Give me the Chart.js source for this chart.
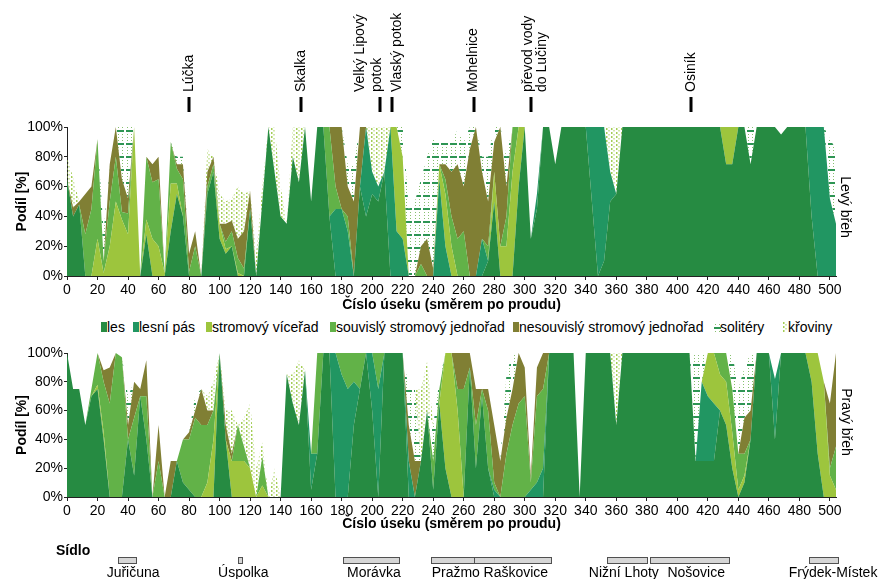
<!DOCTYPE html>
<html><head><meta charset="utf-8">
<script src="https://cdn.jsdelivr.net/npm/chart.js@4.4.1/dist/chart.umd.min.js"></script>
<style>
body{margin:0;background:#fff;width:882px;height:579px;position:relative;overflow:hidden;font-family:"Liberation Sans",Arial,sans-serif;}
.wrap{position:absolute;left:0;width:882px;}
#legend{position:absolute;left:0;top:318px;width:882px;height:20px;font-size:14px;color:#000;}
#legend .box{position:absolute;top:4px;width:6px;height:10px;}
#legend .txt{position:absolute;top:0;line-height:18px;white-space:nowrap;}
</style></head><body>
<div class="wrap" style="top:0;height:318px"><canvas id="c1"></canvas></div>
<div id="legend"></div>
<div class="wrap" style="top:338px;height:241px"><canvas id="c2"></canvas></div>
<script>
// ---------- DATA ----------
const sections = [0,4,8,12,16,20,24,28,32,36, 40,44,48,52,56,60,64,68,72,76, 80,84,88,92,96,100,104,108,112,116,
 120,124,128,132,136,140,144,148,152,156, 160,164,168,172,176,180,184,188,192,196, 200,204,208,212,216,220,224,228,232,236,
 240,244,248,252,256,260,264,268,272,276, 280,284,288,292,296,300,304,308,312,316, 320,324,328,332,336,340,344,348,352,356,
 360,364,368,372,376,380,384,388,392,396, 400,404,408,412,416,420,424,428,432,436, 440,444,448,452,456,460,464,468,472,476,
 480,484,488,492,496,500,504];

const seriesNames = ['les','lesní pás','stromový víceřad','souvislý stromový jednořad','nesouvislý stromový jednořad','solitéry','křoviny'];
const yTicks = [0,20,40,60,80,100];
const xTicks = [0,20,40,60,80,100,120,140,160,180,200,220,240,260,280,300,320,340,360,380,400,420,440,460,480,500];

// Levý břeh
const lesL = [65,40,48,0,0,0,0,0,0,0, 0,0,0,28,0,0,0,30,55,40, 0,0,0,55,70,25,15,20,0,0, 45,0,50,100,70,40,35,80,63,100,
 50,100,100,40,0,0,0,0,60,40, 55,50,70,0,0,0,0,0,0,0, 0,0,0,0,0,0,0,0,0,10, 50,0,0,0,60,100,25,45,100,100,
 75,100,100,100,100,100,50,0,10,50, 55,100,100,100,100,100,100,100,100,100, 100,100,100,100,100,100,100,100,75,75,
 100,100,75,100,100,100,100,95,100,100, 100,100,40,0,0,0,0];
const pasL = [0,0,0,0,0,0,0,0,0,0, 0,0,0,0,0,0,0,0,0,0, 0,0,0,0,0,0,0,0,0,0, 0,0,0,0,0,0,0,0,0,0,
 0,0,0,0,45,45,30,0,0,60, 15,10,0,100,30,25,0,0,0,0, 0,65,20,0,0,0,0,0,25,0, 0,0,0,0,0,0,0,10,0,0,
 0,0,0,0,0,0,50,100,90,20, 0,0,0,0,0,0,0,0,0,0, 0,0,0,0,0,0,0,0,0,0, 0,0,0,0,0,0,0,0,0,0, 0,0,60,100,100,52,35];
const vicL = [0,0,0,0,0,25,2,20,50,38, 28,100,0,10,25,20,2,32,7,0, 0,0,0,0,0,10,3,0,2,0, 0,0,0,0,0,0,0,0,0,0,
 0,0,0,0,0,0,0,0,0,0, 0,0,0,0,70,55,0,0,0,0, 0,10,35,20,0,0,0,0,0,0, 20,20,20,70,40,0,0,0,0,0,
 0,0,0,0,0,0,0,0,0,0, 0,0,0,0,0,0,0,0,0,0, 0,0,0,0,0,0,0,0,25,25, 0,0,0,0,0,0,0,0,0,0, 0,0,0,0,0,0,0];
const souL = [0,0,0,28,45,67,8,30,30,5, 14,0,0,42,38,45,0,28,10,25, 3,20,0,5,5,0,5,10,10,5, 0,0,0,0,0,0,0,0,0,0,
 0,0,0,60,15,0,10,0,0,0, 0,0,0,0,0,0,0,0,8,0, 0,0,10,20,25,30,0,0,0,10, 0,0,20,30,0,0,0,0,0,0,
 0,0,0,0,0,0,0,0,0,0, 0,0,0,0,0,0,0,0,0,0, 0,0,0,0,0,0,0,0,0,0, 0,0,0,0,0,0,0,0,0,0, 0,0,0,0,0,0,0];
const nesL = [0,6,2,27,15,0,0,25,20,22, 10,0,0,0,12,15,0,0,3,10, 12,10,0,10,5,0,12,7,13,25, 12,0,0,0,0,0,0,0,0,0,
 0,0,0,0,40,55,20,50,40,0, 0,0,0,0,0,0,0,0,12,25, 5,0,10,30,50,30,85,100,45,30, 20,80,20,0,0,0,0,0,0,0,
 0,0,0,0,0,0,0,0,0,0, 0,0,0,0,0,0,0,0,0,0, 0,0,0,0,0,0,0,0,0,0, 0,0,0,0,0,0,0,0,0,0, 0,0,0,0,0,0,0];
const solL = [0,0,0,0,0,0,20,0,0,35, 48,0,0,0,0,0,0,0,5,5, 0,0,0,0,0,0,0,0,0,0, 0,0,0,0,0,0,0,0,0,0,
 0,0,0,0,0,0,15,25,0,0, 0,0,0,0,0,20,45,50,45,55, 87,15,15,20,23,30,15,0,10,30, 10,0,20,0,0,0,0,0,0,0,
 0,0,0,0,0,0,0,0,0,0, 0,0,0,0,0,0,0,0,0,0, 0,0,0,0,0,0,0,0,0,0, 0,0,25,0,0,0,0,0,0,0, 0,0,0,0,0,40,50];
const kroL = [15,20,0,0,0,0,0,0,0,0, 0,0,0,0,0,0,0,0,0,0, 0,0,0,15,0,20,15,15,35,25, 0,15,10,0,30,20,0,20,37,0,
 0,0,0,0,0,0,0,0,0,0, 30,40,30,0,0,0,0,0,0,0, 0,0,0,0,0,0,0,0,0,0, 0,0,0,0,0,0,0,0,0,0,
 0,0,0,0,0,0,0,0,0,30, 45,0,0,0,0,0,0,0,0,0, 0,0,0,0,0,0,0,0,0,0, 0,0,0,0,0,0,0,0,0,0, 0,0,0,0,0,0,0];

// Pravý břeh
const lesR = [100,75,75,50,70,75,40,0,0,0, 40,15,70,40,0,0,0,0,25,10, 5,0,0,0,0,100,40,0,0,0, 0,0,0,0,0,0,85,65,50,88,
 5,30,100,100,0,0,0,50,75,100, 60,0,100,100,100,100,0,0,25,60, 5,65,20,0,0,0,90,20,70,20, 0,0,0,0,0,0,0,0,0,100,
 100,100,100,100,0,100,100,100,100,100, 50,100,100,100,100,100,100,100,100,100, 100,100,100,25,25,25,25,60,50,20,
 0,10,40,100,100,100,40,100,100,100, 100,100,80,30,0,0,0];
const pasR = [0,0,0,0,0,0,0,0,0,0, 0,0,0,0,0,0,0,0,0,0, 0,0,0,0,0,0,0,0,0,0, 0,0,0,0,0,0,0,0,0,0,
 25,0,0,0,100,85,75,30,0,0, 40,75,0,0,0,0,25,0,0,0, 0,0,0,0,0,0,0,0,0,0, 5,0,0,0,0,0,5,10,20,0,
 0,0,0,0,0,0,0,0,0,0, 0,0,0,0,0,0,0,0,0,0, 0,0,0,0,55,45,40,0,0,0, 0,0,0,0,0,0,42,0,0,0, 0,0,0,0,0,0,0];
const vicR = [0,0,0,0,0,3,5,0,0,0, 0,0,0,0,0,0,0,0,0,0, 0,0,0,10,40,0,0,25,25,25, 20,0,8,0,0,0,0,0,0,0,
 0,0,0,0,0,0,0,0,0,0, 0,0,0,0,0,0,0,0,0,0, 0,0,80,100,60,0,0,0,0,0, 0,0,0,0,0,0,0,0,0,0,
 0,0,0,0,0,0,0,0,0,0, 0,0,0,0,0,0,0,0,0,0, 0,0,0,0,0,30,35,25,30,25, 5,5,0,0,0,0,0,0,0,0, 0,0,20,70,80,15,5];
const souR = [0,0,0,0,5,22,35,65,100,97, 0,40,0,30,0,25,0,0,0,30, 35,55,50,40,20,0,0,0,25,10, 0,0,20,0,0,0,0,0,0,0,
 0,70,0,0,0,15,25,20,25,0, 0,25,0,0,0,0,0,0,0,0, 20,10,0,0,15,75,0,30,5,40, 5,0,30,50,65,70,5,60,55,0,
 0,0,0,0,0,0,0,0,0,0, 0,0,0,0,0,0,0,0,0,0, 0,0,0,0,0,0,0,15,20,30, 25,15,0,0,0,0,0,0,0,0, 0,0,0,0,0,5,30];
const nesR = [0,0,0,0,0,0,8,25,0,0, 10,25,5,25,0,25,0,25,0,0, 5,5,25,10,0,0,10,5,0,0, 0,0,0,0,0,0,0,0,0,0,
 0,0,0,0,0,0,0,0,0,0, 0,0,0,0,0,0,25,25,0,0, 0,0,0,0,25,25,10,25,0,15, 40,25,25,25,35,20,5,20,25,0,
 0,0,0,0,0,0,0,0,0,0, 0,0,0,0,0,0,0,0,0,0, 0,0,0,0,0,0,0,0,0,0, 0,25,20,0,0,0,0,0,0,0, 0,0,0,0,0,45,65];
const solR = [0,0,0,0,0,0,0,0,0,0, 20,0,0,0,0,0,0,0,0,0, 0,10,0,0,0,0,0,0,0,0, 0,0,0,0,0,0,0,0,0,0,
 0,0,0,0,0,0,0,0,0,0, 0,0,0,0,0,0,25,50,0,0, 25,5,0,0,0,0,0,0,0,0, 0,0,30,25,0,0,0,0,0,0,
 0,0,0,0,0,0,0,0,0,0, 0,0,0,0,0,0,0,0,0,0, 0,0,0,75,20,0,0,0,0,25, 45,35,40,0,0,0,0,0,0,0, 0,0,0,0,0,0,0];
const kroR = [0,0,0,0,0,0,0,0,0,0, 0,0,0,0,0,0,0,0,0,0, 0,0,0,10,20,0,10,30,0,20, 45,20,10,0,20,0,0,20,45,0,
 0,0,0,0,0,0,0,0,0,0, 0,0,0,0,0,0,0,0,50,34, 0,0,0,0,0,0,0,0,0,0, 0,0,0,0,0,0,0,0,0,0,
 0,0,0,0,0,0,0,0,0,0, 50,0,0,0,0,0,0,0,0,0, 0,0,0,0,0,0,0,0,0,0, 0,0,0,0,0,0,0,0,0,0, 0,0,0,0,0,0,0];

// river landmarks (top) and settlements (bottom)
const placeNames = ['Lúčka','Skalka','Velký Lipový\npotok','Vlaský potok','Mohelnice','převod vody\ndo Lučiny','Osiník'];
const placeSections = [80,153.5,205,213,266.5,304,409];
const settlementNames = ['Juřičuna','Úspolka','Morávka','Pražmo','Raškovice','Nižní Lhoty','Nošovice','Frýdek-Místek'];
const settlementFrom = [33.5,112,181,238.5,267,354,382,486.5];
const settlementTo = [45.5,114.5,217.5,267,317.5,380,434,505];
const settlementLabelAt = [26,99,183.5,239,273,342,393.5,473];

// ---------- STYLE ----------
const FONT = '"Liberation Sans", Arial, sans-serif';
Chart.defaults.font.family = FONT;
Chart.defaults.font.size = 14;
Chart.defaults.color = '#000';

function makeTile(w, h, draw) {
  const c = document.createElement('canvas'); c.width = w; c.height = h;
  draw(c.getContext('2d')); return c;
}
const solTile = makeTile(9, 13, g => {
  g.fillStyle = '#2e9553'; g.fillRect(0, 0, 7, 2);
  g.fillStyle = '#86c06e';
  [4, 7, 10].forEach(y => { g.fillRect(1, y, 1, 1); g.fillRect(5, y, 1, 1); });
});
const kroTile = makeTile(5, 4, g => {
  g.fillStyle = '#a3cd55'; g.fillRect(1, 0, 1.5, 2); g.fillRect(3.5, 2, 1, 1.5);
});
const pat = t => t.getContext('2d').createPattern(t, 'repeat');
const colors = ['#268b42', '#219662', '#9dc53d', '#62b248', '#807f34', pat(solTile), pat(kroTile)];

function datasets(arrs) {
  return arrs.map((arr, k) => ({
    label: seriesNames[k],
    data: sections.map((x, i) => ({ x, y: arr[i] })),
    backgroundColor: colors[k],
    borderColor: 'rgba(0,0,0,0)',
    borderWidth: 0,
    pointRadius: 0,
    tension: 0,
    fill: k === 0 ? 'origin' : '-1'
  }));
}

function opts(padding, xHeight) {
  return {
    responsive: true, maintainAspectRatio: false, animation: false, events: [],
    layout: { padding },
    plugins: { legend: { display: false }, tooltip: { enabled: false } },
    scales: {
      x: {
        type: 'linear', min: 0, max: 504,
        ticks: { padding: 2, maxRotation: 0, autoSkip: false },
        afterBuildTicks: s => { s.ticks = xTicks.map(v => ({ value: v })); },
        afterFit: s => { s.height = xHeight; },
        grid: { drawOnChartArea: false, drawTicks: true, tickLength: 4, color: '#222' },
        border: { display: true, color: '#222', width: 1 },
        title: { display: true, text: 'Číslo úseku (směrem po proudu)', font: { weight: 'bold', size: 14 }, padding: { top: 0, bottom: 4 } }
      },
      y: {
        stacked: true, min: 0, max: 100,
        afterBuildTicks: s => { s.ticks = yTicks.map(v => ({ value: v })); },
        ticks: { callback: v => v + '%', padding: 1 },
        afterFit: s => { s.width = 67; },
        grid: { drawOnChartArea: false, drawTicks: true, tickLength: 3, color: '#222' },
        border: { display: true, color: '#222', width: 1 },
        title: { display: true, text: 'Podíl [%]', font: { weight: 'bold', size: 14 }, padding: { top: 14, bottom: 0 } }
      }
    }
  };
}

function sideLabel(ctx, text, x, y) {
  ctx.save(); ctx.translate(x, y); ctx.rotate(Math.PI / 2);
  ctx.font = '14px ' + FONT; ctx.fillStyle = '#000';
  ctx.textAlign = 'center'; ctx.textBaseline = 'middle'; ctx.fillText(text, 0, 0);
  ctx.restore();
}

// per-line horizontal offsets (px) of the landmark captions relative to their marker
const placeLineOffsets = [[0],[0],[-20,-3],[5],[0],[-3,11],[0]];

const topPlugin = {
  id: 'topDecor',
  afterDraw(chart) {
    const { ctx } = chart, x = chart.scales.x;
    ctx.save();
    ctx.font = '14px ' + FONT; ctx.fillStyle = '#000';
    placeNames.forEach((name, i) => {
      const px = x.getPixelForValue(placeSections[i]);
      ctx.fillRect(Math.round(px) - 1.5, 97, 3, 15);
      name.split('\n').forEach((ln, j) => {
        ctx.save(); ctx.translate(px + placeLineOffsets[i][j], 92); ctx.rotate(-Math.PI / 2);
        ctx.textAlign = 'left'; ctx.textBaseline = 'middle'; ctx.fillText(ln, 0, 0);
        ctx.restore();
      });
    });
    ctx.restore();
    sideLabel(ctx, 'Levý břeh', 845, 207);
  }
};

const bottomPlugin = {
  id: 'bottomDecor',
  afterDraw(chart) {
    const { ctx } = chart, x = chart.scales.x;
    sideLabel(ctx, 'Pravý břeh', 846, 84);
    ctx.save();
    ctx.font = 'bold 14px ' + FONT; ctx.fillStyle = '#000';
    ctx.textAlign = 'left'; ctx.textBaseline = 'middle';
    ctx.fillText('Sídlo', 56, 213);
    ctx.font = '14px ' + FONT; ctx.textBaseline = 'alphabetic';
    settlementNames.forEach((name, i) => {
      const x1 = Math.round(x.getPixelForValue(settlementFrom[i])), x2 = Math.round(x.getPixelForValue(settlementTo[i]));
      ctx.fillStyle = '#d6d6d6'; ctx.fillRect(x1 + 0.5, 219.5, x2 - x1, 6);
      ctx.strokeStyle = '#505050'; ctx.lineWidth = 1; ctx.strokeRect(x1 + 0.5, 219.5, x2 - x1, 6);
      ctx.fillStyle = '#000';
      ctx.fillText(name, x.getPixelForValue(settlementLabelAt[i]), 239);
    });
    ctx.restore();
  }
};

new Chart(document.getElementById('c1'), {
  type: 'line',
  data: { datasets: datasets([lesL, pasL, vicL, souL, nesL, solL, kroL]) },
  options: opts({ top: 127, right: 46, bottom: 0, left: 0 }, 42),
  plugins: [topPlugin]
});
new Chart(document.getElementById('c2'), {
  type: 'line',
  data: { datasets: datasets([lesR, pasR, vicR, souR, nesR, solR, kroR]) },
  options: opts({ top: 15, right: 46, bottom: 42, left: 0 }, 40),
  plugins: [bottomPlugin]
});

// ---------- LEGEND (between the two charts) ----------
const legendBoxX = [101, 133, 206, 330, 513, 714, 782];
const leg = document.getElementById('legend');
seriesNames.forEach((name, k) => {
  const b = document.createElement('div'); b.className = 'box';
  b.style.left = legendBoxX[k] + 'px';
  if (k < 5) b.style.background = colors[k];
  else {
    b.style.backgroundImage = 'url(' + (k === 5 ? solTile : kroTile).toDataURL() + ')';
    if (k === 5) { b.style.backgroundPosition = '0 5px'; b.style.width = '8px'; }
  }
  const t = document.createElement('div'); t.className = 'txt';
  t.style.left = (legendBoxX[k] + 6) + 'px'; t.textContent = name;
  leg.appendChild(b); leg.appendChild(t);
});
</script>
</body></html>
